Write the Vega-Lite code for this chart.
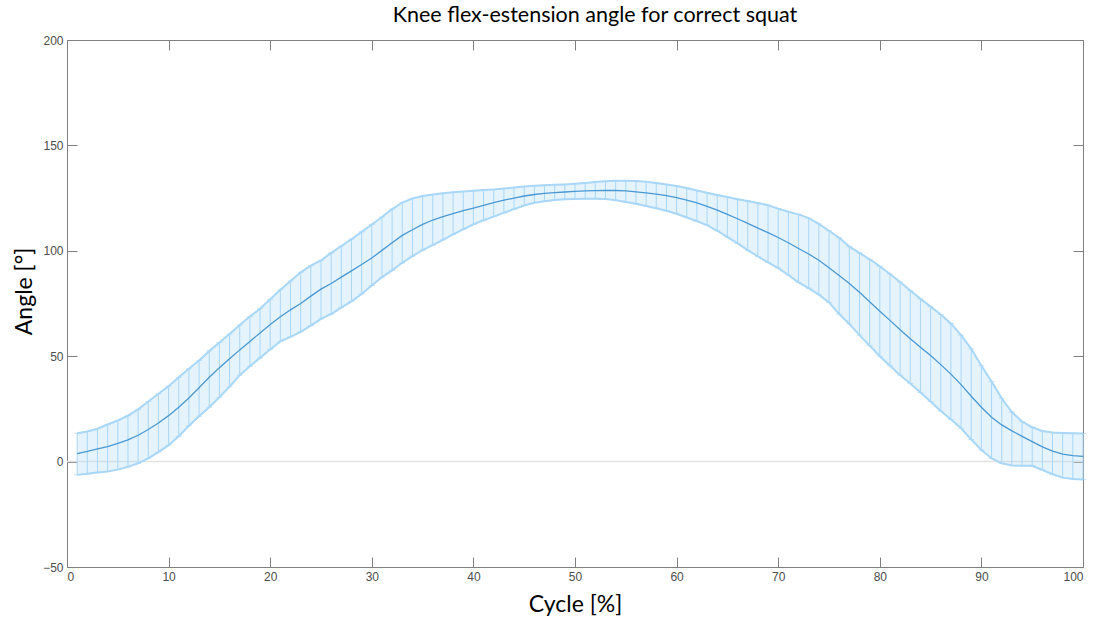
{
  "$schema": "https://vega.github.io/schema/vega-lite/v6.json",
  "width": 1016,
  "height": 527,
  "autosize": {"type": "none"},
  "padding": {"left": 67, "top": 40, "right": 14, "bottom": 56},
  "background": "#ffffff",
  "config": {
    "view": {"stroke": null},
    "axis": {
      "domainColor": "#808080",
      "tickColor": "#808080",
      "tickSize": -10,
      "labelFont": "Liberation Sans",
      "labelFontSize": 12,
      "labelColor": "#4d4d4d",
      "grid": false,
      "titleFont": "Lato",
      "titleFontSize": 23,
      "titleFontWeight": "normal",
      "titleColor": "#000000"
    }
  },
  "title": {
    "text": "Knee flex-estension angle for correct squat",
    "font": "Lato",
    "fontSize": 21.5,
    "fontWeight": "normal",
    "color": "#000000",
    "anchor": "middle",
    "dx": 20,
    "offset": 8
  },
  "data": {
    "values": [
      {"x": 1, "m": 3.8, "lo": -6.3, "hi": 13.4},
      {"x": 2, "m": 4.8, "lo": -5.8, "hi": 14.3},
      {"x": 3, "m": 6.0, "lo": -5.2, "hi": 15.6},
      {"x": 4, "m": 7.1, "lo": -4.7, "hi": 17.6},
      {"x": 5, "m": 8.6, "lo": -3.8, "hi": 19.5},
      {"x": 6, "m": 10.3, "lo": -2.5, "hi": 21.8},
      {"x": 7, "m": 12.5, "lo": -0.8, "hi": 24.8},
      {"x": 8, "m": 15.2, "lo": 1.5, "hi": 28.5},
      {"x": 9, "m": 18.3, "lo": 4.5, "hi": 32.2},
      {"x": 10, "m": 21.8, "lo": 7.8, "hi": 35.8},
      {"x": 11, "m": 25.8, "lo": 12.0, "hi": 40.0},
      {"x": 12, "m": 30.2, "lo": 17.0, "hi": 44.0},
      {"x": 13, "m": 35.0, "lo": 21.5, "hi": 48.0},
      {"x": 14, "m": 40.0, "lo": 25.8, "hi": 52.5},
      {"x": 15, "m": 44.5, "lo": 30.5, "hi": 56.5},
      {"x": 16, "m": 48.8, "lo": 35.5, "hi": 60.5},
      {"x": 17, "m": 53.0, "lo": 41.0, "hi": 64.8},
      {"x": 18, "m": 57.0, "lo": 45.2, "hi": 68.8},
      {"x": 19, "m": 61.0, "lo": 49.2, "hi": 72.5},
      {"x": 20, "m": 65.0, "lo": 53.2, "hi": 77.0},
      {"x": 21, "m": 68.7, "lo": 57.0, "hi": 81.5},
      {"x": 22, "m": 72.0, "lo": 59.2, "hi": 85.7},
      {"x": 23, "m": 75.0, "lo": 61.5, "hi": 89.8},
      {"x": 24, "m": 78.5, "lo": 64.5, "hi": 93.0},
      {"x": 25, "m": 81.8, "lo": 67.7, "hi": 95.5},
      {"x": 26, "m": 84.5, "lo": 70.0, "hi": 99.0},
      {"x": 27, "m": 87.5, "lo": 73.0, "hi": 102.3},
      {"x": 28, "m": 90.5, "lo": 76.0, "hi": 105.5},
      {"x": 29, "m": 93.5, "lo": 79.5, "hi": 109.0},
      {"x": 30, "m": 96.6, "lo": 83.5, "hi": 112.5},
      {"x": 31, "m": 100.2, "lo": 87.5, "hi": 116.0},
      {"x": 32, "m": 103.8, "lo": 90.7, "hi": 119.8},
      {"x": 33, "m": 107.3, "lo": 94.3, "hi": 122.9},
      {"x": 34, "m": 110.0, "lo": 97.5, "hi": 124.8},
      {"x": 35, "m": 112.5, "lo": 100.3, "hi": 126.0},
      {"x": 36, "m": 114.6, "lo": 102.7, "hi": 126.7},
      {"x": 37, "m": 116.2, "lo": 105.2, "hi": 127.3},
      {"x": 38, "m": 117.6, "lo": 107.8, "hi": 127.8},
      {"x": 39, "m": 119.0, "lo": 110.2, "hi": 128.1},
      {"x": 40, "m": 120.3, "lo": 112.5, "hi": 128.5},
      {"x": 41, "m": 121.5, "lo": 114.5, "hi": 128.8},
      {"x": 42, "m": 122.8, "lo": 116.2, "hi": 129.1},
      {"x": 43, "m": 124.0, "lo": 118.0, "hi": 129.5},
      {"x": 44, "m": 125.0, "lo": 119.8, "hi": 130.0},
      {"x": 45, "m": 126.0, "lo": 121.5, "hi": 130.5},
      {"x": 46, "m": 126.7, "lo": 122.8, "hi": 130.9},
      {"x": 47, "m": 127.2, "lo": 123.5, "hi": 131.1},
      {"x": 48, "m": 127.6, "lo": 124.1, "hi": 131.3},
      {"x": 49, "m": 127.9, "lo": 124.5, "hi": 131.5},
      {"x": 50, "m": 128.2, "lo": 124.6, "hi": 131.8},
      {"x": 51, "m": 128.4, "lo": 124.7, "hi": 132.2},
      {"x": 52, "m": 128.5, "lo": 124.7, "hi": 132.6},
      {"x": 53, "m": 128.6, "lo": 124.6, "hi": 133.0},
      {"x": 54, "m": 128.6, "lo": 124.0, "hi": 133.2},
      {"x": 55, "m": 128.4, "lo": 123.2, "hi": 133.2},
      {"x": 56, "m": 128.0, "lo": 122.3, "hi": 133.1},
      {"x": 57, "m": 127.5, "lo": 121.3, "hi": 132.8},
      {"x": 58, "m": 126.9, "lo": 120.2, "hi": 132.2},
      {"x": 59, "m": 126.2, "lo": 119.0, "hi": 131.5},
      {"x": 60, "m": 125.2, "lo": 117.6, "hi": 130.7},
      {"x": 61, "m": 124.0, "lo": 115.8, "hi": 129.8},
      {"x": 62, "m": 122.7, "lo": 114.0, "hi": 128.6},
      {"x": 63, "m": 121.1, "lo": 112.2, "hi": 127.5},
      {"x": 64, "m": 119.3, "lo": 109.5, "hi": 126.5},
      {"x": 65, "m": 117.3, "lo": 106.5, "hi": 125.5},
      {"x": 66, "m": 115.2, "lo": 103.5, "hi": 124.5},
      {"x": 67, "m": 113.0, "lo": 100.3, "hi": 123.6},
      {"x": 68, "m": 110.8, "lo": 97.3, "hi": 122.7},
      {"x": 69, "m": 108.6, "lo": 94.5, "hi": 121.6},
      {"x": 70, "m": 106.3, "lo": 91.8, "hi": 120.0},
      {"x": 71, "m": 103.8, "lo": 88.5, "hi": 118.5},
      {"x": 72, "m": 101.1, "lo": 85.0, "hi": 117.3},
      {"x": 73, "m": 98.5, "lo": 82.3, "hi": 115.5},
      {"x": 74, "m": 95.5, "lo": 79.2, "hi": 112.8},
      {"x": 75, "m": 92.0, "lo": 75.5, "hi": 109.5},
      {"x": 76, "m": 88.3, "lo": 70.0, "hi": 106.2},
      {"x": 77, "m": 84.5, "lo": 65.3, "hi": 102.0},
      {"x": 78, "m": 80.3, "lo": 60.0, "hi": 99.0},
      {"x": 79, "m": 75.8, "lo": 55.0, "hi": 96.0},
      {"x": 80, "m": 71.3, "lo": 50.0, "hi": 92.6},
      {"x": 81, "m": 67.0, "lo": 45.5, "hi": 89.0},
      {"x": 82, "m": 62.5, "lo": 41.0, "hi": 85.2},
      {"x": 83, "m": 58.3, "lo": 37.0, "hi": 81.2},
      {"x": 84, "m": 54.3, "lo": 32.8, "hi": 77.2},
      {"x": 85, "m": 50.3, "lo": 28.5, "hi": 73.5},
      {"x": 86, "m": 46.0, "lo": 24.0, "hi": 69.8},
      {"x": 87, "m": 41.5, "lo": 20.0, "hi": 65.5},
      {"x": 88, "m": 36.5, "lo": 15.8, "hi": 60.0},
      {"x": 89, "m": 31.0, "lo": 10.5, "hi": 53.5},
      {"x": 90, "m": 25.8, "lo": 5.5, "hi": 45.5},
      {"x": 91, "m": 21.0, "lo": 1.5, "hi": 38.0},
      {"x": 92, "m": 17.4, "lo": -0.8, "hi": 30.0},
      {"x": 93, "m": 14.6, "lo": -1.8, "hi": 23.5},
      {"x": 94, "m": 12.0, "lo": -2.0, "hi": 19.0},
      {"x": 95, "m": 9.5, "lo": -2.0, "hi": 16.3},
      {"x": 96, "m": 7.0, "lo": -4.0, "hi": 14.5},
      {"x": 97, "m": 5.0, "lo": -6.0, "hi": 13.8},
      {"x": 98, "m": 3.5, "lo": -7.6, "hi": 13.6},
      {"x": 99, "m": 2.8, "lo": -8.2, "hi": 13.4},
      {"x": 100, "m": 2.5, "lo": -8.5, "hi": 13.3}
    ]
  },
  "layer": [
    {
      "data": {"values": [{"z": 0}]},
      "mark": {"type": "rule", "color": "#e3e3e3", "strokeWidth": 1.5},
      "encoding": {
        "y": {"field": "z", "type": "quantitative", "scale": {"domain": [-50, 200], "nice": false, "zero": false}, "axis": null}
      }
    },
    {
      "mark": {"type": "area", "color": "#a9d7f7", "opacity": 0.3},
      "encoding": {
        "x": {"field": "x", "type": "quantitative", "scale": {"domain": [0, 100], "nice": false, "zero": false}, "axis": null},
        "y": {"field": "lo", "type": "quantitative", "scale": {"domain": [-50, 200], "nice": false, "zero": false}, "axis": null},
        "y2": {"field": "hi"}
      }
    },
    {
      "mark": {"type": "rule", "color": "#a9d7f7", "strokeWidth": 1},
      "encoding": {
        "x": {"field": "x", "type": "quantitative", "scale": {"domain": [0, 100], "nice": false, "zero": false},
              "axis": {"orient": "bottom", "values": [0,10,20,30,40,50,60,70,80,90,100], "title": "Cycle [%]", "labelPadding": 14, "titlePadding": 11}},
        "y": {"field": "lo", "type": "quantitative", "scale": {"domain": [-50, 200], "nice": false, "zero": false},
              "axis": {"orient": "left", "values": [-50,0,50,100,150,200], "title": "Angle [°]", "labelPadding": 14, "titlePadding": 6, "titleY": 251}},
        "y2": {"field": "hi"}
      }
    },
    {
      "mark": {"type": "line", "color": "#a9d7f7", "strokeWidth": 2},
      "encoding": {
        "x": {"field": "x", "type": "quantitative", "axis": null},
        "y": {"field": "hi", "type": "quantitative", "axis": null}
      }
    },
    {
      "mark": {"type": "line", "color": "#a9d7f7", "strokeWidth": 2},
      "encoding": {
        "x": {"field": "x", "type": "quantitative", "axis": null},
        "y": {"field": "lo", "type": "quantitative", "axis": null}
      }
    },
    {
      "mark": {"type": "tick", "orient": "horizontal", "color": "#a9d7f7", "size": 6, "thickness": 1},
      "encoding": {
        "x": {"field": "x", "type": "quantitative", "axis": null},
        "y": {"field": "hi", "type": "quantitative", "axis": null}
      }
    },
    {
      "mark": {"type": "tick", "orient": "horizontal", "color": "#a9d7f7", "size": 6, "thickness": 1},
      "encoding": {
        "x": {"field": "x", "type": "quantitative", "axis": null},
        "y": {"field": "lo", "type": "quantitative", "axis": null}
      }
    },
    {
      "mark": {"type": "line", "color": "#4a98d2", "strokeWidth": 1.3},
      "encoding": {
        "x": {"field": "x", "type": "quantitative", "axis": null},
        "y": {"field": "m", "type": "quantitative", "axis": null}
      }
    },
    {
      "mark": {"type": "point", "opacity": 0},
      "encoding": {
        "x": {"field": "x", "type": "quantitative", "axis": {"orient": "top", "values": [0,10,20,30,40,50,60,70,80,90,100], "labels": false, "title": null}},
        "y": {"field": "m", "type": "quantitative", "axis": {"orient": "right", "values": [-50,0,50,100,150,200], "labels": false, "title": null}}
      }
    }
  ],
  "resolve": {"axis": {"x": "independent", "y": "independent"}}
}
